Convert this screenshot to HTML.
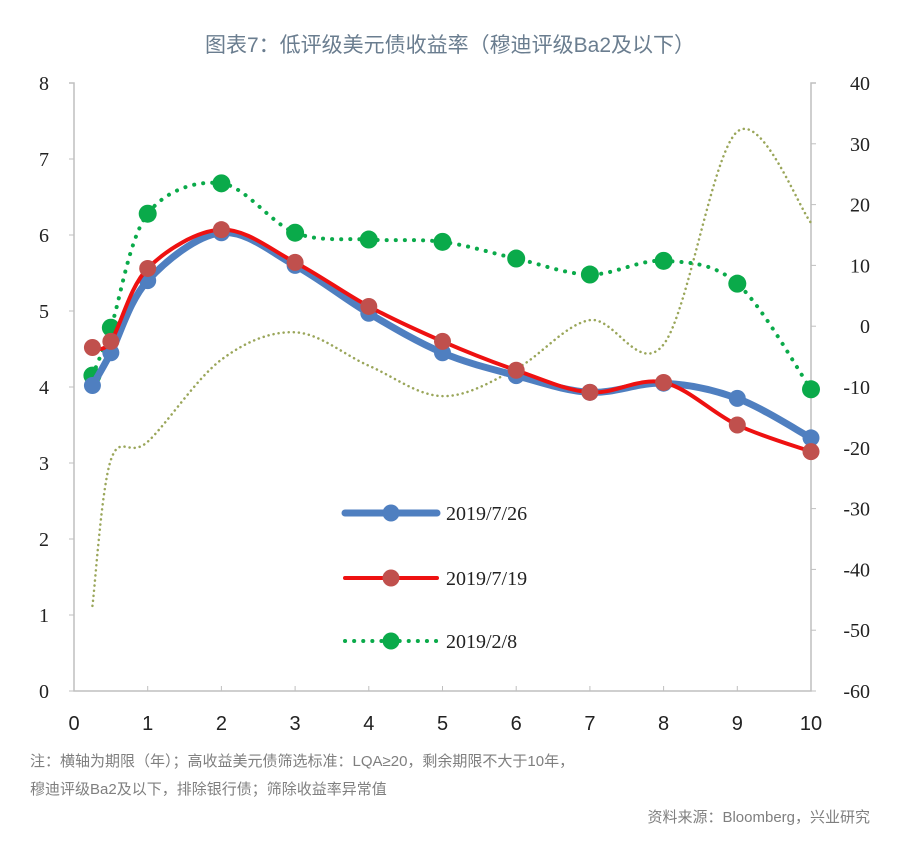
<!DOCTYPE html>
<html><head><meta charset="utf-8"><style>
body{margin:0;background:#fff;width:900px;height:845px;overflow:hidden;font-family:"Liberation Sans","Noto Sans CJK SC",sans-serif}
svg text{font-family:"Liberation Serif","Noto Serif CJK SC",serif}
</style></head><body>
<svg id="c" width="900" height="845" xmlns="http://www.w3.org/2000/svg">
<text x="450" y="52" text-anchor="middle" font-size="21" fill="#6a7d8f" style="font-family:'Liberation Sans','Noto Sans CJK SC',sans-serif">图表7：低评级美元债收益率（穆迪评级Ba2及以下）</text>
<g id="axes"></g><g id="series"></g><g id="legend"></g>
<text x="30" y="766" font-size="15" fill="#7f7f7f" style="font-family:'Liberation Sans','Noto Sans CJK SC',sans-serif">注：横轴为期限（年）；高收益美元债筛选标准：LQA≥20，剩余期限不大于10年，</text>
<text x="30" y="794" font-size="15" fill="#7f7f7f" style="font-family:'Liberation Sans','Noto Sans CJK SC',sans-serif">穆迪评级Ba2及以下，排除银行债；筛除收益率异常值</text>
<text x="870" y="822" text-anchor="end" font-size="15" fill="#7f7f7f" style="font-family:'Liberation Sans','Noto Sans CJK SC',sans-serif">资料来源：Bloomberg，兴业研究</text>
</svg>
<script>
const xs=[0.25,0.5,1,2,3,4,5,6,7,8,9,10];
const s0726=[4.02,4.45,5.4,6.03,5.6,4.97,4.45,4.15,3.93,4.05,3.85,3.33];
const s0719=[4.52,4.6,5.56,6.07,5.64,5.06,4.6,4.22,3.93,4.06,3.5,3.15];
const s0208=[4.15,4.78,6.28,6.68,6.03,5.94,5.91,5.69,5.48,5.66,5.36,3.97];
const sDiff=[-46,-22,-19,-5.5,-1,-6.5,-11.5,-7,1,-3,32,17];
const xTicks=[0,1,2,3,4,5,6,7,8,9,10];
const yLTicks=[0,1,2,3,4,5,6,7,8];
const yRTicks=[-60,-50,-40,-30,-20,-10,0,10,20,30,40];
const X0=74,X1=811,YT=83,YB=691;
const sx=v=>X0+(X1-X0)*v/10, syL=v=>YB-(YB-YT)*v/8, syR=v=>YB-(YB-YT)*(v+60)/100;
const NS='http://www.w3.org/2000/svg';
function mk(t,a,p){const e=document.createElementNS(NS,t);for(const k in a)e.setAttribute(k,a[k]);p.appendChild(e);return e;}
const ax=document.getElementById('axes');
let e=mk('path',{d:`M${X0-5},${YT}H${X0}V${YB}H${X1}V${YT}H${X1+5}`,fill:'none',stroke:'#bfbfbf','stroke-width':1.5},ax);

yLTicks.forEach(v=>{mk('line',{x1:X0-5,x2:X0,y1:syL(v),y2:syL(v),stroke:'#bfbfbf'},ax);
 const t=mk('text',{x:44,y:syL(v)+7,'text-anchor':'middle','font-size':20,fill:'#222'},ax);t.textContent=v;
 });
yRTicks.forEach(v=>{mk('line',{x1:X1,x2:X1+5,y1:syR(v),y2:syR(v),stroke:'#bfbfbf'},ax);
 const t=mk('text',{x:870,y:syR(v)+7,'text-anchor':'end','font-size':20,fill:'#222'},ax);t.textContent=v;
 });
xTicks.forEach(v=>{mk('line',{x1:sx(v),x2:sx(v),y1:YB-5,y2:YB,stroke:'#bfbfbf'},ax);
 const t=mk('text',{x:sx(v),y:730,'text-anchor':'middle','font-size':20,fill:'#222',style:"font-family:'Liberation Sans',sans-serif"},ax);t.textContent=v;
 });
function spline(p){let d=`M${p[0][0]},${p[0][1]}`;for(let i=0;i<p.length-1;i++){const a=p[i-1]||p[i],b=p[i],c=p[i+1],n=p[i+2]||c;
 d+=`C${b[0]+(c[0]-a[0])/6},${b[1]+(c[1]-a[1])/6} ${c[0]-(n[0]-b[0])/6},${c[1]-(n[1]-b[1])/6} ${c[0]},${c[1]}`;}return d;}
const sg=document.getElementById('series');
function series(vals,ys,name,col,w,dash,mcol,r){
 const pts=xs.map((x,i)=>[sx(x),ys(vals[i])]);
 const p=mk('path',{d:spline(pts),fill:'none',stroke:col,'stroke-width':w,'stroke-dasharray':dash||'none','stroke-linecap':'round'},sg);
 
 if(r)pts.forEach(q=>{const c=mk('circle',{cx:q[0],cy:q[1],r:r,fill:mcol},sg);
  });}
series(sDiff,syR,'spread-series','#9aa65a',2.5,'0.1 5',null,0);
series(s0208,syL,'series-2019-02-08','#0aaa4a',4,'0.1 9','#0aaa4a',9);
series(s0726,syL,'series-2019-07-26','#4f7fc0',7,null,'#4f7fc0',8.5);
series(s0719,syL,'series-2019-07-19','#ee1111',4,null,'#c0504d',8.5);
const lg=document.getElementById('legend');
[['2019/7/26','#4f7fc0',7,null,'#4f7fc0',513],['2019/7/19','#ee1111',4,null,'#c0504d',578],['2019/2/8','#0aaa4a',4,'0.1 9','#0aaa4a',641]].forEach(l=>{
 const g=mk('g',{},lg);
 mk('line',{x1:345,x2:437,y1:l[5],y2:l[5],stroke:l[1],'stroke-width':l[2],'stroke-dasharray':l[3]||'none','stroke-linecap':'round'},g);
 mk('circle',{cx:391,cy:l[5],r:8.5,fill:l[4]},g);
 const t=mk('text',{x:446,y:l[5]+7,'font-size':20,fill:'#222'},g);t.textContent=l[0];});
</script>
</body></html>
